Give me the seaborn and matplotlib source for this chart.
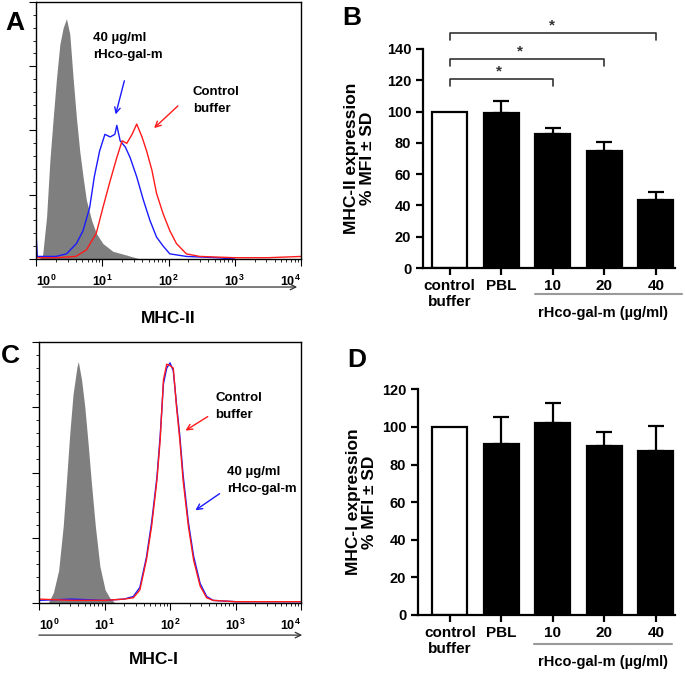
import numpy as np
import matplotlib.pyplot as plt
import seaborn as sns

# bar charts (panels B and D)
bar_labels = ['control\nbuffer', 'PBL', '10', '20', '40']
bar_colors = ['white', 'black', 'black', 'black', 'black']
mhc2_mean = [100, 99.4, 85.4, 74.9, 43.3]
mhc2_sd = [0, 7.3, 4.0, 5.8, 5.6]
mhc1_mean = [100, 90.9, 101.9, 89.9, 87.4]
mhc1_sd = [0, 14.6, 11.0, 7.6, 13.1]

# significance brackets in panel B
sig_start = [0, 0, 0]
sig_end = [2, 3, 4]
sig_level = [120.6, 133.4, 150.0]
sig_star_x = [0.95, 1.36, 1.98]

# flow cytometry histograms: log10 fluorescence vs cell counts
a_gray_log = [0.05, 0.10, 0.16, 0.21, 0.26, 0.31, 0.36, 0.41, 0.46, 0.51, 0.56,
              0.61, 0.66, 0.71, 0.76, 0.84, 0.91, 1.01, 1.16, 1.37, 1.57]
a_gray_cnt = [0, 3, 33, 77, 110, 141, 167, 180, 187, 175, 141,
              110, 84, 64, 46, 30, 20, 12, 6, 3, 0]
a_blue_log = [0.0, 0.02, 0.1, 0.3, 0.46, 0.61, 0.71, 0.81, 0.88, 0.96, 1.04, 1.12, 1.19,
              1.22, 1.27, 1.35, 1.42, 1.52, 1.62, 1.72, 1.82, 1.92, 2.02, 2.27, 2.73, 3.0]
a_blue_cnt = [20, 2, 2, 2, 4, 12, 22, 40, 64, 84, 97, 95, 97,
              104, 92, 87, 79, 64, 46, 30, 17, 10, 4, 2, 1, 0]
a_red_log = [0.0, 0.3, 0.6, 0.76, 0.91, 1.01, 1.12, 1.22, 1.30, 1.37, 1.45, 1.52,
             1.60, 1.67, 1.75, 1.82, 1.92, 2.02, 2.12, 2.27, 2.47, 3.0, 3.5, 4.0]
a_red_cnt = [1, 1, 2, 7, 20, 40, 61, 79, 92, 90, 97, 105,
             95, 84, 69, 51, 35, 22, 12, 4, 2, 1, 1, 2]

c_gray_log = [0.14, 0.22, 0.30, 0.37, 0.42, 0.47, 0.52, 0.58, 0.60, 0.65, 0.70,
              0.75, 0.80, 0.86, 0.93, 1.01, 1.08, 1.16]
c_gray_cnt = [0, 8, 25, 59, 94, 130, 160, 181, 185, 171, 150,
              122, 92, 59, 28, 10, 4, 0]
c_line_log = [0.0, 0.5, 1.0, 1.3, 1.44, 1.54, 1.64, 1.72, 1.80, 1.85, 1.90, 1.95, 2.00,
              2.05, 2.10, 2.15, 2.20, 2.28, 2.36, 2.46, 2.56, 2.66, 3.0, 3.5, 4.0]
c_red_cnt = [3, 2, 2, 3, 4, 10, 33, 59, 94, 125, 171, 183, 182,
             180, 150, 125, 94, 59, 33, 13, 4, 2, 1, 1, 1]
c_blue_cnt = [2, 3, 2, 3, 5, 12, 35, 62, 96, 128, 168, 180, 184,
              178, 152, 128, 98, 62, 36, 15, 5, 2, 1, 1, 1]

decade_labels = [r'$10^{0}$', r'$10^{1}$', r'$10^{2}$', r'$10^{3}$', r'$10^{4}$']

sns.set_style('ticks')
plt.rcParams['font.family'] = ['Liberation Sans', 'DejaVu Sans']
plt.rcParams['font.weight'] = 'bold'
plt.rcParams['axes.labelweight'] = 'bold'
plt.rcParams['mathtext.fontset'] = 'custom'
plt.rcParams['mathtext.rm'] = 'Liberation Sans'
plt.rcParams['mathtext.it'] = 'Liberation Sans'
for key in ['text.color', 'axes.labelcolor', 'xtick.color', 'ytick.color', 'axes.edgecolor']:
    plt.rcParams[key] = 'black'


def draw_histogram(ax, gray_log, gray_cnt, blue_log, blue_cnt, red_log, red_cnt,
                   xlabel, xlabel_pos, arrow_y, arrow_x):
    ax.fill_between(10 ** np.array(gray_log), gray_cnt, color='#7f7f7f', lw=0)
    sns.lineplot(x=10 ** np.array(blue_log), y=blue_cnt, color='#1a1aff', lw=1.0, ax=ax)
    sns.lineplot(x=10 ** np.array(red_log), y=red_cnt, color='#ff1a1a', lw=1.0, ax=ax)
    ax.set_xscale('log')
    ax.set_xlim(1, 1e4)
    ax.set_ylim(0, 200)
    ax.set_yticks(np.arange(0, 201, 50))
    ax.set_yticks(np.arange(0, 201, 10), minor=True)
    ax.tick_params(axis='y', labelleft=False, direction='out')
    ax.tick_params(axis='y', which='major', length=5)
    ax.tick_params(axis='y', which='minor', length=2.5)
    ax.tick_params(axis='x', which='major', length=5, pad=6)
    ax.tick_params(axis='x', which='minor', length=2.5)
    ax.set_xticks([1, 10, 100, 1000, 10000])
    ax.set_xticklabels(decade_labels, fontsize=9, fontweight='normal')
    lbls = ax.get_xticklabels()
    lbls[0].set_horizontalalignment('left')
    lbls[-1].set_horizontalalignment('right')
    for sp in ax.spines.values():
        sp.set_linewidth(1.0)
        sp.set_color('black')
    ax.set_xlabel('')
    ax.set_ylabel('')
    ax.text(xlabel_pos[0], xlabel_pos[1], xlabel, transform=ax.transAxes,
            ha='center', va='center', fontsize=12.5)
    ax.annotate('', xy=(arrow_x[1], arrow_y), xytext=(arrow_x[0], arrow_y),
                xycoords='axes fraction', annotation_clip=False,
                arrowprops=dict(arrowstyle='->', lw=0.9, color='#333333'))


def label_arrow(ax, text, text_pos, tail, head, color):
    ax.text(text_pos[0], text_pos[1], text, transform=ax.transAxes, ha='left',
            va='top', fontsize=9.5, linespacing=1.6)
    ax.annotate('', xy=head, xytext=tail, xycoords='axes fraction',
                arrowprops=dict(arrowstyle='->', lw=1.0, color=color))


def draw_bars(ax, means, sds, ymax, ylabel, xlim, ylabel_x, group_line, group_y):
    sns.barplot(x=bar_labels, y=means, hue=bar_labels,
                palette=dict(zip(bar_labels, bar_colors)), legend=False,
                dodge=False, width=0.68, edgecolor='black', linewidth=1.6,
                errorbar=None, ax=ax)
    idx = [i for i, s in enumerate(sds) if s > 0]
    ax.errorbar(idx, [means[i] for i in idx],
                yerr=[[0] * len(idx), [sds[i] for i in idx]],
                fmt='none', ecolor='black', elinewidth=1.6, capsize=6, capthick=1.6)
    ax.set_xlim(*xlim)
    ax.set_ylim(0, ymax)
    ax.set_yticks(np.arange(0, ymax + 1, 20))
    sns.despine(ax=ax)
    for sp in ['left', 'bottom']:
        ax.spines[sp].set_linewidth(1.6)
    ax.tick_params(width=1.6, length=5)
    ax.tick_params(axis='y', labelsize=10.5)
    ax.tick_params(axis='x', labelsize=11, pad=3)
    ax.set_ylabel(ylabel, fontsize=12.5, linespacing=1.1)
    ax.yaxis.set_label_coords(ylabel_x, 0.5)
    ax.set_xlabel('')
    trans = ax.get_xaxis_transform()
    ax.plot(group_line, [group_y[0], group_y[0]], transform=trans,
            color='#9a9a9a', lw=1.5, clip_on=False)
    ax.text(2.97, group_y[1], 'rHco-gal-m (µg/ml)', transform=trans,
            ha='center', va='center', fontsize=10.5)


fig = plt.figure(figsize=(6.85, 6.75), dpi=100)

ax_a = fig.add_axes([36 / 685, 1 - 259 / 675, 265 / 685, 257 / 675])
draw_histogram(ax_a, a_gray_log, a_gray_cnt, a_blue_log, a_blue_cnt,
               a_red_log, a_red_cnt, 'MHC-II', (0.5, -0.23), -0.109, (0.015, 0.996))
label_arrow(ax_a, '40 µg/ml\nrHco-gal-m', (0.215, 0.885), (0.336, 0.704), (0.298, 0.552), '#1a1aff')
label_arrow(ax_a, 'Control\nbuffer', (0.592, 0.675), (0.543, 0.603), (0.438, 0.502), '#ff1a1a')

ax_c = fig.add_axes([39 / 685, 1 - 603 / 675, 262 / 685, 261 / 675])
draw_histogram(ax_c, c_gray_log, c_gray_cnt, c_line_log, c_blue_cnt,
               c_line_log, c_red_cnt, 'MHC-I', (0.44, -0.218), -0.123, (-0.011, 1.015))
label_arrow(ax_c, 'Control\nbuffer', (0.672, 0.81), (0.653, 0.720), (0.550, 0.655), '#ff1a1a')
label_arrow(ax_c, '40 µg/ml\nrHco-gal-m', (0.718, 0.525), (0.698, 0.425), (0.588, 0.349), '#1a1aff')

ax_b = fig.add_axes([423 / 685, 1 - 268 / 675, 252 / 685, 219 / 675])
draw_bars(ax_b, mhc2_mean, mhc2_sd, 140, 'MHC-II expression\n% MFI ± SD',
          (-0.52, 4.37), -0.19, [1.65, 4.5], (-0.119, -0.205))
for s, e, lvl, sx in zip(sig_start, sig_end, sig_level, sig_star_x):
    ax_b.plot([s, s, e, e], [lvl - 4.2, lvl, lvl, lvl - 4.2], color='#333333',
              lw=1.2, clip_on=False)
    ax_b.text(sx, lvl + 0.8, '*', ha='center', va='bottom', fontsize=11,
              color='#333333', clip_on=False)

ax_d = fig.add_axes([418 / 685, 1 - 615 / 675, 257 / 685, 225.7 / 675])
draw_bars(ax_d, mhc1_mean, mhc1_sd, 120, 'MHC-I expression\n% MFI ± SD',
          (-0.62, 4.37), -0.16, [1.64, 4.32], (-0.128, -0.208))

for letter, x, y in [('A', 5, 30), ('B', 342, 25), ('C', 1, 363), ('D', 347, 367)]:
    fig.text(x / 685, 1 - y / 675, letter, fontsize=19, fontweight='bold', va='baseline')

fig.savefig('out.png', dpi=100)
